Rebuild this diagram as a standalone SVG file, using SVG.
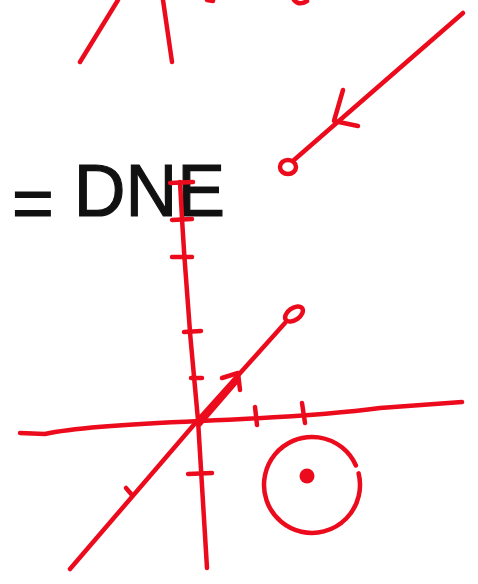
<svg xmlns="http://www.w3.org/2000/svg" width="478" height="584" viewBox="0 0 478 584">
<style>
.r{fill:none;stroke:#ec0b1c;stroke-width:4.5;stroke-linecap:round;stroke-linejoin:round}
.f{fill:#ec0b1c}
.t{font-family:"Liberation Sans",Arial,sans-serif;fill:#111;stroke:#111;stroke-width:1.2}
</style>
<rect width="478" height="584" fill="#fff"/>
<!-- top fragments -->
<path class="r" d="M80 62 L118 0"/>
<path class="r" d="M172 62 L163 0"/>
<path class="r" d="M207 0 L213 1"/>
<path class="r" d="M294 0 Q299 6 307 1"/>
<!-- arrow line with open end -->
<path class="r" d="M463 13 L294 160"/>
<ellipse class="r" cx="288" cy="167" rx="8" ry="7"/>
<path class="r" d="M343 90 L334 121 L358 126"/>
<!-- text -->
<text class="t" x="12" y="216" font-size="74" textLength="213" lengthAdjust="spacingAndGlyphs"><tspan dy="12">=</tspan><tspan dy="-12"> DNE</tspan></text>
<!-- vertical axis -->
<path class="r" d="M180 182 Q186 300 198 420 L207 568"/>
<path class="r" d="M170 183 L193 182"/>
<path class="r" d="M172 220 L192 219"/>
<path class="r" d="M172 257 L192 257"/>
<path class="r" d="M184 332 L201 331"/>
<path class="r" d="M191 378 L202 378"/>
<path class="r" d="M188 474 L212 473"/>
<!-- horizontal axis -->
<path class="r" d="M20 433 L45 434 Q80 426 200 421 Q320 416 380 408 L462 402"/>
<path class="r" d="M255 407 L257 425"/>
<path class="r" d="M302 403 L305 423"/>
<!-- diagonal -->
<path class="r" d="M70 569 L198 420 L285 323"/>
<path class="r" d="M200 424 L238 380" stroke-width="7"/>
<ellipse class="r" cx="294" cy="314" rx="10" ry="6" transform="rotate(-35 294 314)"/>
<path class="r" d="M222 378 L238 373 L240 390"/>
<path class="r" d="M126 488 L132 495"/>
<!-- circle with dot -->
<path class="r" d="M358.6 473.4 A48 48 0 1 1 355.9 465.5"/>
<circle class="f" cx="307" cy="476" r="7.5"/>
</svg>
